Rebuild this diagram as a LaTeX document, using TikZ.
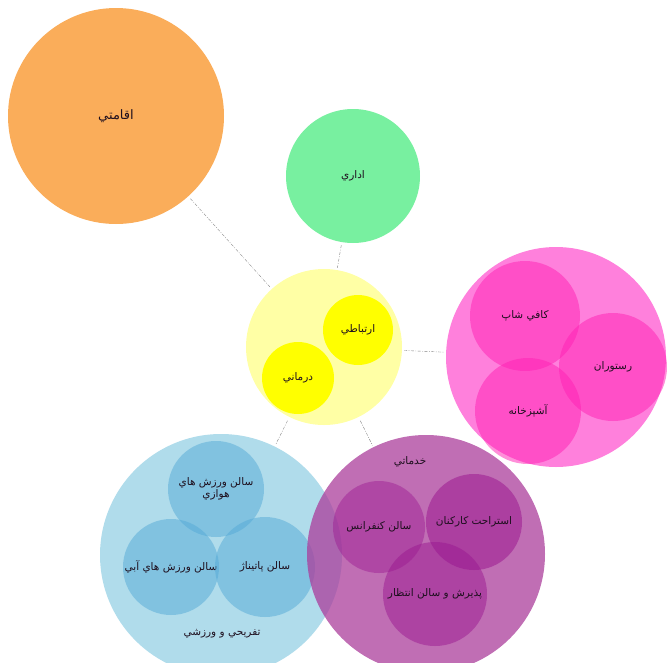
\documentclass[tikz,border=0pt]{standalone}
\usepackage{fontspec}
\newfontfamily\arabicfont[Script=Arabic]{DejaVu Sans}
\TeXXeTstate=1
\definecolor{orangec}{RGB}{250,173,90}
\definecolor{greenc}{RGB}{120,240,160}
\definecolor{yelbig}{RGB}{255,255,165}
\definecolor{yelsmall}{RGB}{255,255,0}
\definecolor{pinkbig}{RGB}{255,128,220}
\definecolor{pinksmall}{RGB}{255,32,180}
\definecolor{bluebig}{RGB}{176,220,235}
\definecolor{bluesmall}{RGB}{84,170,215}
\definecolor{purbig}{RGB}{171,61,155}
\definecolor{pursmall}{RGB}{155,25,145}
\definecolor{txt}{RGB}{30,15,30}
\definecolor{linkc}{RGB}{130,130,130}
\tikzset{
  bubble/.style={circle, draw=none, inner sep=0pt, minimum size=#1, text=txt, font=\arabicfont\fontsize{10.5}{12.5}\selectfont, align=center},
  lbl/.style={text=txt, font=\arabicfont\fontsize{10.5}{12.5}\selectfont, inner sep=1pt, align=center},
  link/.style={draw=linkc, line width=0.4pt, dash pattern=on 3pt off 1.5pt on 0.8pt off 1.5pt},
}
\begin{document}
\begin{tikzpicture}[x=1pt,y=-1pt]
\useasboundingbox (0,0) rectangle (667,662);
% orange
\node[bubble=216pt, fill=orangec, font=\arabicfont\fontsize{13}{15}\selectfont] (aqamati) at (116,116) {\beginR اقامتي\endR};
% green
\node[bubble=134pt, fill=greenc] (edari) at (353,176) {\beginR اداري\endR};
% yellow
\node[bubble=156pt, fill=yelbig] (yel) at (324,347) {};
\node[bubble=70pt, fill=yelsmall] (ertebati) at (358,330) {\beginR ارتباطي\endR};
\node[bubble=72pt, fill=yelsmall] (darmani) at (298,378) {\beginR درماني\endR};
% pink
\node[bubble=220pt, fill=pinkbig] (pink) at (556,357) {};
\node[bubble=110pt, fill=pinksmall, fill opacity=0.5, text opacity=1] (cafe) at (525,316) {\beginR کافي شاپ\endR};
\node[bubble=108pt, fill=pinksmall, fill opacity=0.5, text opacity=1] (rest) at (613,367) {\beginR رستوران\endR};
\node[bubble=106pt, fill=pinksmall, fill opacity=0.5, text opacity=1] (kitchen) at (528,411) {\beginR آشپزخانه\endR};
% blue
\node[bubble=242pt, fill=bluebig] (blue) at (221,555) {};
\node[bubble=96pt, fill=bluesmall, fill opacity=0.5, text opacity=1] (havazi) at (216,489) {\beginR سالن ورزش هاي\endR\\\beginR هوازي\endR};
\node[bubble=96pt, fill=bluesmall, fill opacity=0.5, text opacity=1] (abi) at (171,567) {\beginR سالن ورزش هاي آبي\endR};
\node[bubble=100pt, fill=bluesmall, fill opacity=0.5, text opacity=1] (patinaj) at (265,567) {\beginR سالن پاتيناژ\endR};
\node[lbl] (tafrihi) at (222,634) {\beginR تفريحي و ورزشي\endR};
% purple
\node[bubble=238pt, fill=purbig, fill opacity=0.75] (purple) at (426,554) {};
\node[bubble=92pt, fill=pursmall, fill opacity=0.45, text opacity=1] (conf) at (379,527) {\beginR سالن کنفرانس\endR};
\node[bubble=96pt, fill=pursmall, fill opacity=0.55, text opacity=1] (staff) at (474,522) {\beginR استراحت کارکنان\endR};
\node[bubble=104pt, fill=pursmall, fill opacity=0.5, text opacity=1] (recep) at (435,594) {\beginR پذيرش و سالن انتظار\endR};
\node[lbl] (khadamati) at (410,462) {\beginR خدماتي\endR};
% connectors
\draw[link, shorten <=3pt, shorten >=2pt] (aqamati) -- (yel);
\draw[link, shorten <=3pt, shorten >=2pt] (edari) -- (yel);
\draw[link, shorten <=2pt, shorten >=2pt] (yel) -- (pink);
\draw[link, shorten <=4pt, shorten >=2pt] (yel) -- (blue);
\draw[link, shorten <=4pt, shorten >=2pt] (yel) -- (purple);
\end{tikzpicture}
\end{document}
